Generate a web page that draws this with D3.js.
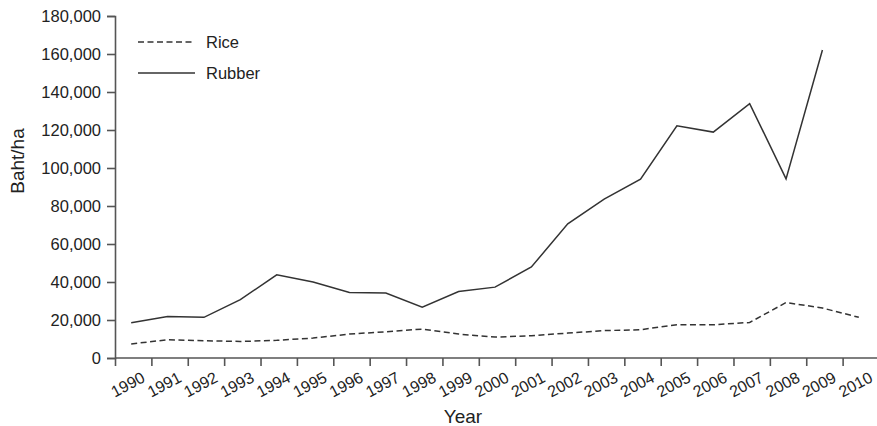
<!DOCTYPE html>
<html>
<head>
<meta charset="utf-8">
<script src="https://cdn.jsdelivr.net/npm/d3@7"></script>
<style>
  html, body { margin: 0; padding: 0; background: #fff; }
  svg { display: block; font-family: "Liberation Sans", Arial, Helvetica, sans-serif; }
</style>
</head>
<body>
<svg id="chart" width="877" height="426"></svg>
<script>
// Farm income per hectare, 1990–2010
const years = [1990, 1991, 1992, 1993, 1994, 1995, 1996, 1997, 1998, 1999, 2000,
               2001, 2002, 2003, 2004, 2005, 2006, 2007, 2008, 2009, 2010];
const rice = [7400, 9600, 9100, 8700, 9300, 10500, 12600, 13800, 15200, 12600, 11000,
              11700, 13100, 14400, 14900, 17500, 17500, 18700, 29200, 26300, 21400];
const rubber = [18500, 21900, 21400, 30700, 43800, 40000, 34500, 34200, 26800, 35000, 37300,
                47900, 70600, 83600, 94100, 122200, 118900, 133900, 94300, 162100, null];
const yTicks = [0, 20000, 40000, 60000, 80000, 100000, 120000, 140000, 160000, 180000];
const seriesNames = ["Rice", "Rubber"];

const svg = d3.select("#chart");
const plotLeft = 115, plotRight = 879, plotTop = 16, plotBottom = 358;
const ink = "#333";
const axisInk = "#555";
const textInk = "#222";

const x = d3.scaleBand().domain(years).range([plotLeft, plotRight]).padding(0);
const y = d3.scaleLinear().domain([0, 180000]).range([plotBottom, plotTop]);

// Y axis
const yAxis = svg.append("g")
  .attr("transform", `translate(${plotLeft},0)`)
  .call(d3.axisLeft(y).tickValues(yTicks).tickFormat(d3.format(",")).tickSize(8).tickPadding(6));
yAxis.select(".domain").attr("stroke", axisInk).attr("stroke-width", 1.6);
yAxis.selectAll(".tick line").attr("stroke", axisInk).attr("stroke-width", 1.6);
yAxis.selectAll(".tick text").attr("fill", textInk).style("font-size", "16.5px");

// X axis: ticks on band boundaries, labels rotated at band centres
const xg = svg.append("g");
xg.append("line")
  .attr("x1", plotLeft).attr("x2", 877).attr("y1", plotBottom).attr("y2", plotBottom)
  .attr("stroke", axisInk).attr("stroke-width", 1.6);
xg.selectAll("line.tick").data(years).join("line")
  .attr("class", "tick")
  .attr("x1", d => x(d) + 0.5).attr("x2", d => x(d) + 0.5)
  .attr("y1", plotBottom).attr("y2", plotBottom + 8)
  .attr("stroke", axisInk).attr("stroke-width", 1.6);
xg.selectAll("text").data(years).join("text")
  .attr("transform", d => `translate(${x(d) + x.bandwidth() / 2 + 13},${plotBottom + 23}) rotate(-28)`)
  .attr("text-anchor", "end")
  .attr("fill", textInk)
  .style("font-size", "16px")
  .text(d => d);

// Axis titles
svg.append("text")
  .attr("x", 463).attr("y", 423)
  .attr("text-anchor", "middle")
  .attr("fill", textInk)
  .style("font-size", "19px")
  .text("Year");
svg.append("text")
  .attr("transform", "translate(24,161) rotate(-90)")
  .attr("text-anchor", "middle")
  .attr("fill", textInk)
  .style("font-size", "19px")
  .text("Baht/ha");

// Lines
const line = d3.line()
  .defined(d => d[1] != null)
  .x(d => x(d[0]) + x.bandwidth() / 2 - 2)
  .y(d => y(d[1]));

const dashes = ["6,3.5", null];
[rice, rubber].forEach((vals, i) => {
  svg.append("path")
    .datum(years.map((yr, j) => [yr, vals[j]]))
    .attr("fill", "none")
    .attr("stroke", ink)
    .attr("stroke-width", 1.5)
    .attr("stroke-dasharray", dashes[i])
    .attr("stroke-linejoin", "miter")
    .attr("d", line);
});

// Legend
const legend = svg.append("g");
seriesNames.forEach((name, i) => {
  const ly = 42 + i * 31;
  legend.append("line")
    .attr("x1", 138).attr("x2", 195).attr("y1", ly).attr("y2", ly)
    .attr("stroke", ink).attr("stroke-width", 1.5)
    .attr("stroke-dasharray", dashes[i]);
  legend.append("text")
    .attr("x", 206).attr("y", ly + 6)
    .attr("fill", textInk)
    .style("font-size", "16.5px")
    .text(name);
});
</script>
</body>
</html>
